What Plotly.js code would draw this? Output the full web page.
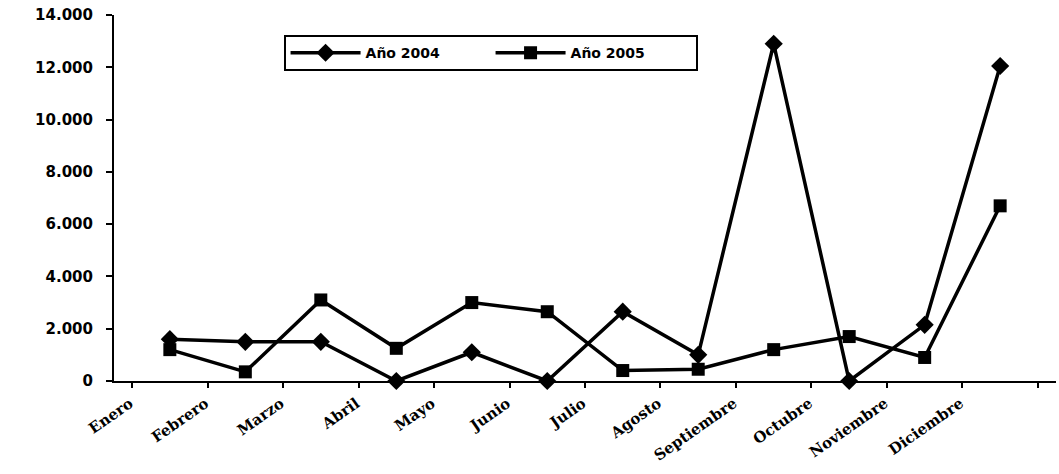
<!DOCTYPE html>
<html>
<head>
<meta charset="utf-8">
<script src="https://cdn.plot.ly/plotly-3.0.1.min.js"></script>
<style>html,body{margin:0;padding:0;background:#fff;}#chart{width:1059px;height:474px;}</style>
</head>
<body>
<div id="chart"></div>
<script>
const months = ["Enero","Febrero","Marzo","Abril","Mayo","Junio","Julio","Agosto","Septiembre","Octubre","Noviembre","Diciembre"];
const anio2004 = [1600, 1500, 1500, 0, 1100, 0, 2650, 1000, 12900, 0, 2150, 12050];
const anio2005 = [1200, 350, 3100, 1250, 3000, 2650, 400, 450, 1200, 1700, 900, 6700];
const yTicks = [0, 2000, 4000, 6000, 8000, 10000, 12000, 14000];

const traces = [
  {x: months, y: anio2004, name: "Año 2004", type: "scatter", mode: "lines+markers",
   line: {color: "#000", width: 3.5}, marker: {symbol: "diamond", size: 14, color: "#000"}, cliponaxis: false},
  {x: months, y: anio2005, name: "Año 2005", type: "scatter", mode: "lines+markers",
   line: {color: "#000", width: 3.5}, marker: {symbol: "square", size: 13, color: "#000"}, cliponaxis: false}
];

const layout = {
  width: 1059, height: 474,
  paper_bgcolor: "#fff", plot_bgcolor: "#fff",
  margin: {l: 114, r: 3, t: 15, b: 93},
  separators: ",.",
  showlegend: true,
  legend: {orientation: "h", x: 0.18, y: 0.945, xanchor: "left", yanchor: "top",
    bordercolor: "#000", borderwidth: 2, bgcolor: "#fff", itemwidth: 70, entrywidth: 120,
    font: {family: "DejaVu Sans", size: 14, weight: "bold", color: "#000"}},
  xaxis: {type: "category", tickson: "boundaries", ticks: "outside", ticklen: 5, tickwidth: 2,
    tickcolor: "#000", showline: true, linecolor: "#000", linewidth: 2, showgrid: false,
    tickangle: -35, ticklabelshift: -40, ticklabelstandoff: 6,
    tickfont: {family: "DejaVu Serif", size: 15, weight: "bold", color: "#000"}},
  yaxis: {range: [0, 14000], tickvals: yTicks, tickformat: ",", ticks: "outside", ticklen: 6,
    tickwidth: 2, tickcolor: "#000", showline: true, linecolor: "#000", linewidth: 2,
    showgrid: false, zeroline: false, ticklabelstandoff: 10,
    tickfont: {family: "DejaVu Sans", size: 15, weight: "bold", color: "#000"}}
};

Plotly.newPlot("chart", traces, layout, {displayModeBar: false, staticPlot: true});
</script>
</body>
</html>
